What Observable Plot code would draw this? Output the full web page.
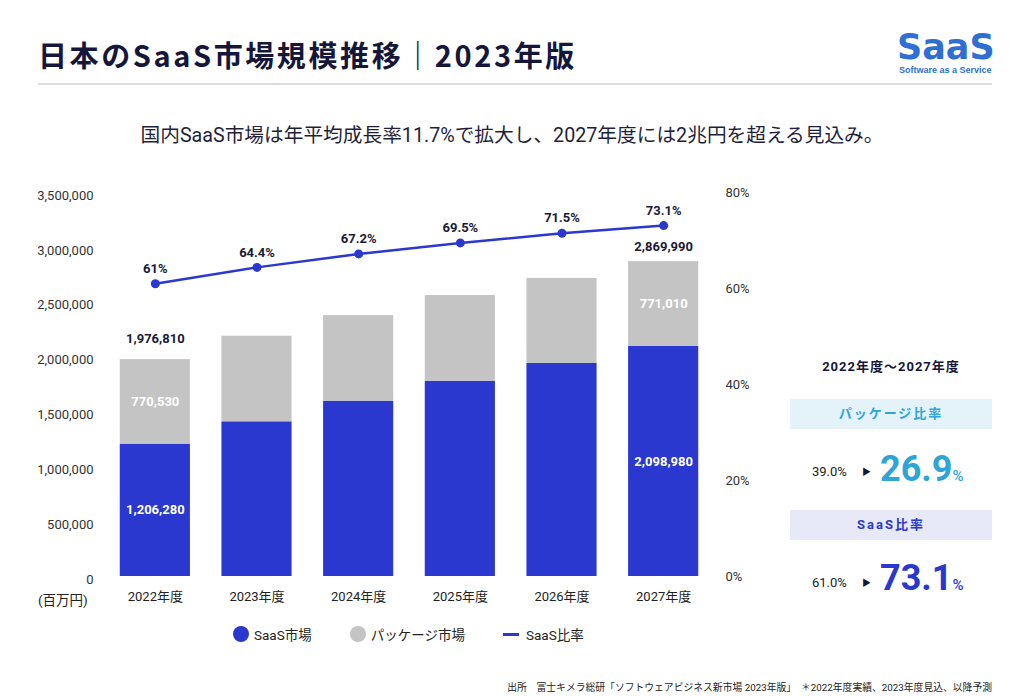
<!DOCTYPE html>
<html><head><meta charset="utf-8">
<script src="https://cdn.jsdelivr.net/npm/d3@7"></script>
<script src="https://cdn.jsdelivr.net/npm/@observablehq/plot@0.6"></script>
<style>
html,body{margin:0;padding:0;background:#fff;}
body{width:1024px;height:696px;position:relative;overflow:hidden;font-family:Roboto,"Noto Sans CJK JP",sans-serif;color:#1f1f3a;}
.abs{position:absolute;white-space:nowrap;}
#title{left:38px;top:36px;font-family:"Noto Sans CJK JP",sans-serif;font-weight:700;font-size:29px;letter-spacing:2.6px;color:#16163a;line-height:36px;}
#rule{left:38px;top:83px;width:954px;height:2px;background:#dcdcdf;}
#logo{left:897px;top:31px;font-family:"DejaVu Sans",sans-serif;font-weight:700;font-size:35px;color:#2f6fd4;line-height:32px;letter-spacing:0px;}
#logo2{left:899px;top:65px;font-family:"Liberation Sans",sans-serif;font-size:9px;line-height:10px;color:#2f6fd4;font-weight:700;}
#sub{left:0;width:1024px;text-align:center;top:123px;font-size:19.7px;color:#1f1f3a;line-height:26px;}
#chart{left:0;top:180px;}
#unit{left:38px;top:589px;font-size:13.5px;color:#222;}
#legend{left:233px;top:624px;font-size:13.5px;color:#222;display:flex;align-items:center;}
#legend .it{display:flex;align-items:center;margin-right:38px;}
#legend .dot{width:16px;height:16px;border-radius:50%;margin-right:5px;}
#legend .ln{width:16px;height:3px;margin-right:7px;}
#range{left:790px;width:202px;text-align:center;top:356px;font-weight:700;font-size:13px;letter-spacing:1px;color:#16163a;}
.box{left:790px;width:202px;height:30px;line-height:30px;text-align:center;font-weight:700;font-size:13px;letter-spacing:2px;}
.from{font-size:13px;color:#222;}
.tri{font-size:9px;color:#16163a;}
.big{font-weight:700;font-size:36px;line-height:40px;}
.pct{font-size:15px;font-weight:500;}
#foot{right:32px;top:680px;font-size:9.8px;color:#222;}
</style></head>
<body>
<div id="title" class="abs">日本のSaaS市場規模推移｜2023年版</div>
<div id="rule" class="abs"></div>
<div id="logo" class="abs">SaaS</div>
<div id="logo2" class="abs">Software as a Service</div>
<div id="sub" class="abs">国内SaaS市場は年平均成長率11.7%で拡大し、2027年度には2兆円を超える見込み。</div>
<div id="chart" class="abs"></div>
<div id="unit" class="abs">(百万円)</div>
<div id="legend" class="abs"></div>
<div id="range" class="abs">2022年度～2027年度</div>
<div class="abs box" style="top:399px;background:#e4f2fa;color:#2fa6d8;">パッケージ比率</div>
<div class="abs from" style="left:812px;top:464px;">39.0%</div>
<div class="abs tri" style="left:862px;top:465px;">▶</div>
<div class="abs big" style="left:880px;top:449px;color:#2ea5d6;">26.9<span class="pct">%</span></div>
<div class="abs box" style="top:510px;background:#e7e8f8;color:#2a38cf;">SaaS比率</div>
<div class="abs from" style="left:812px;top:575px;">61.0%</div>
<div class="abs tri" style="left:862px;top:576px;">▶</div>
<div class="abs big" style="left:880px;top:558px;color:#2a38cf;">73.1<span class="pct">%</span></div>
<div id="foot" class="abs">出所　富士キメラ総研「ソフトウェアビジネス新市場 2023年版」　＊2022年度実績、2023年度見込、以降予測</div>
<script>
const years = ["2022年度","2023年度","2024年度","2025年度","2026年度","2027年度"];
const saasMarket = [1206280, 1410000, 1598000, 1780000, 1942000, 2098980];
const packageMarket = [770530, 780000, 780000, 781000, 775000, 771010];
const saasRatio = [61, 64.4, 67.2, 69.5, 71.5, 73.1];
const ratioLabels = ["61%","64.4%","67.2%","69.5%","71.5%","73.1%"];
const barLabelYears = ["2022年度","2027年度"];
const seriesNames = ["SaaS市場","パッケージ市場","SaaS比率"];
const seriesColors = ["#2a38cf","#c4c4c4","#2a38cf"];
const leftTicks = [0,500000,1000000,1500000,2000000,2500000,3000000,3500000];
const rightTicks = [0,20,40,60,80];

const yMax = 3500000, pMax = 80;
const f = yMax / pMax;

const stacked = [];
years.forEach((y,i)=>{
  const show = barLabelYears.includes(y);
  stacked.push({year:y, series:seriesNames[0], rank:0, value:saasMarket[i], label: show ? d3.format(",")(saasMarket[i]) : ""});
  stacked.push({year:y, series:seriesNames[1], rank:1, value:packageMarket[i], label: show ? d3.format(",")(packageMarket[i]) : ""});
});
const totals = years.map((y,i)=>({year:y, total:saasMarket[i]+packageMarket[i]}));
const ratio = years.map((y,i)=>({year:y, p:saasRatio[i], label:ratioLabels[i]}));

const font = 'Roboto,"Noto Sans CJK JP",sans-serif';
const chart = Plot.plot({
  width: 780, height: 430,
  marginLeft: 104, marginRight: 66, marginTop: 12, marginBottom: 34,
  style: {fontFamily: font, fontSize: "13px", color: "#222", background: "transparent"},
  x: {domain: years, paddingInner: 0.31, paddingOuter: 0.155, round: false, label: null},
  y: {domain: [0, yMax], label: null},
  color: {domain: seriesNames.slice(0,2), range: seriesColors.slice(0,2)},
  marks: [
    Plot.gridY(leftTicks, {stroke: "#ececec", strokeOpacity: 1, strokeWidth: 1.5, x1: 0, x2: 1}),
    Plot.axisY(leftTicks, {anchor: "left", tickSize: 0, tickPadding: 11, dy: 3, tickFormat: d3.format(","), label: null, fill: "#333", fontSize: 13}),
    Plot.axisY(rightTicks.map(p => p*f), {anchor: "right", tickSize: 0, tickPadding: 11, tickFormat: d => Math.round(d/f) + "%", label: null, fill: "#333", fontSize: 13}),
    Plot.axisX({tickSize: 0, tickPadding: 15, label: null, fill: "#222", fontSize: 13}),
    Plot.barY(stacked, {x: "year", y: "value", fill: "series", z: "series", order: "rank"}),
    Plot.text(stacked, Plot.stackY({x: "year", y: "value", z: "series", order: "rank", text: "label", fill: "white", fontWeight: 700, fontSize: 13})),
    Plot.text(totals.filter(d => d.year === barLabelYears[0]), {x: "year", y: "total", text: d => d3.format(",")(d.total), dy: -21, fontWeight: 700, fontSize: 13, fill: "#1a1a36"}),
    Plot.text(totals.filter(d => d.year === barLabelYears[1]), {x: "year", y: "total", text: d => d3.format(",")(d.total), dy: -15, fontWeight: 700, fontSize: 13, fill: "#1a1a36"}),
    Plot.line(ratio, {x: "year", y: d => d.p*f, stroke: seriesColors[2], strokeWidth: 2.5}),
    Plot.dot(ratio, {x: "year", y: d => d.p*f, r: 4.5, fill: seriesColors[2]}),
    Plot.text(ratio, {x: "year", y: d => d.p*f, text: "label", dy: -15, fontWeight: 700, fontSize: 13, fill: "#1a1a36"})
  ]
});
document.getElementById("chart").appendChild(chart);

const lg = document.getElementById("legend");
seriesNames.forEach((n,i)=>{
  const it = document.createElement("div"); it.className = "it";
  const sw = document.createElement("div");
  sw.className = i < 2 ? "dot" : "ln";
  sw.style.background = seriesColors[i];
  it.appendChild(sw);
  const t = document.createElement("span"); t.textContent = n; it.appendChild(t);
  lg.appendChild(it);
});
</script>
</body></html>
